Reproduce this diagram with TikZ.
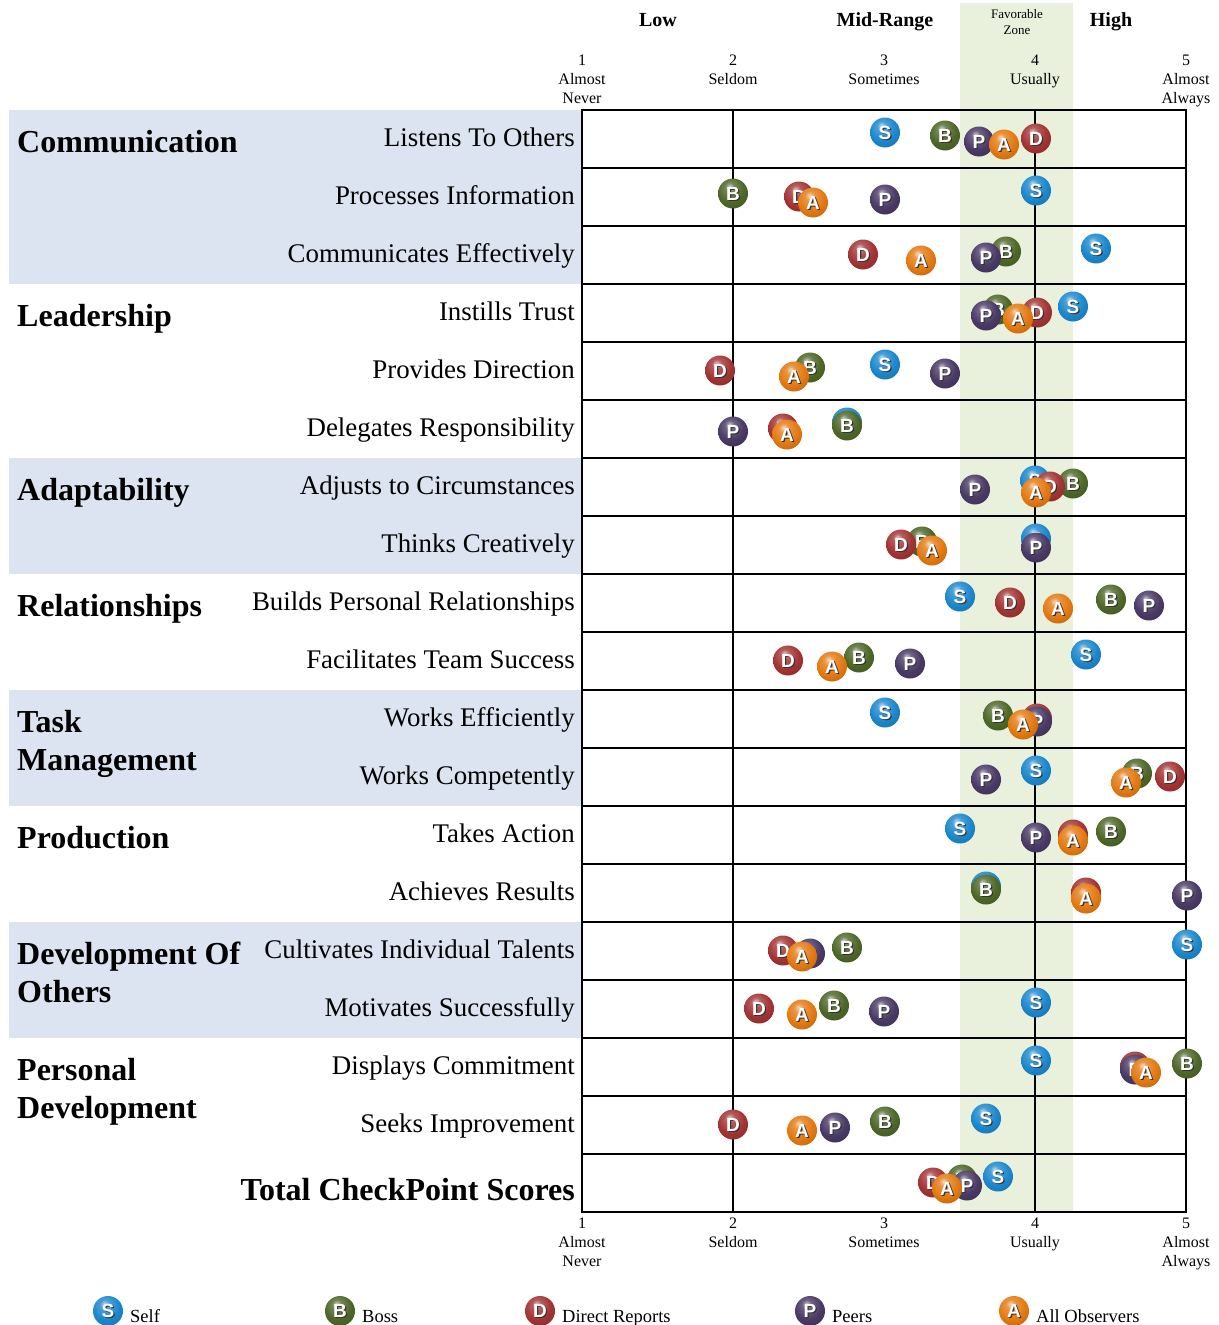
\documentclass[tikz,border=0pt]{standalone}
\usepackage{fontspec}
\setmainfont{Liberation Serif}
\newfontfamily\ballfont{Liberation Sans}
\definecolor{sblue}{RGB}{28,136,206}
\definecolor{bgreen}{RGB}{78,104,40}
\definecolor{dred}{RGB}{164,52,52}
\definecolor{ppurple}{RGB}{74,58,102}
\definecolor{aorange}{RGB}{228,122,18}
\definecolor{catbg}{RGB}{219,228,240}
\definecolor{zonebg}{RGB}{233,241,221}
\colorlet{mballc}{sblue}
\pgfdeclareradialshading[mballc]{myball}{\pgfpoint{-6bp}{12bp}}{%
  color(0bp)=(mballc!30!white); color(8bp)=(mballc!80!white); color(22bp)=(mballc);
  color(40bp)=(mballc!80!black); color(58bp)=(mballc!45!black); color(70bp)=(mballc!45!black)}
\newcommand\balltxt[1]{\makebox[0pt]{\smash{\raisebox{-1.3pt}{\hspace{2.6pt}\textcolor{black!80}{#1}}}}\makebox[0pt]{\textcolor{white}{#1}}}
\newcommand\ballmark[5]{\colorlet{mballc}{#5}\node[mball] (#1) at (#2,#3) {\balltxt{#4}};}
\tikzset{
  mball/.style={circle, minimum size=30pt, inner sep=0pt, shading=myball,
    font=\ballfont\bfseries\fontsize{19}{19}\selectfont},
  itemlbl/.style={anchor=base east, inner sep=0pt, font=\fontsize{26.9}{30}\selectfont},
  catlbl/.style={anchor=base west, inner sep=0pt, font=\bfseries\fontsize{32}{36}\selectfont},
  axlbl/.style={anchor=base, inner sep=0pt, font=\fontsize{16}{19}\selectfont},
  hdrlbl/.style={anchor=base, inner sep=0pt, font=\bfseries\fontsize{20}{24}\selectfont},
  zonelbl/.style={anchor=base, inner sep=0pt, font=\fontsize{13}{15}\selectfont},
  leglbl/.style={anchor=base west, inner sep=0pt, font=\fontsize{18.5}{22}\selectfont},
  gridline/.style={line width=1.3pt, black}
}
\begin{document}
\begin{tikzpicture}[x=1pt,y=-1pt]
\useasboundingbox (0,0) rectangle (1218,1325);
% backgrounds
\fill[catbg] (9,110) rectangle (582,284);
\fill[catbg] (9,458) rectangle (582,574);
\fill[catbg] (9,690) rectangle (582,806);
\fill[catbg] (9,922) rectangle (582,1038);
\fill[zonebg] (960,3) rectangle (1073,1212);
% grid
\foreach \r in {1,...,18} \draw[gridline] (582,110+58*\r) -- (1186,110+58*\r);
\draw[gridline] (733,110) -- (733,1212);
\draw[gridline] (1035,110) -- (1035,1212);
\draw[gridline] (582,110) rectangle (1186,1212);
% headers
\node[hdrlbl] (hlow) at (658,26) {Low};
\node[hdrlbl] (hmid) at (885,26) {Mid-Range};
\node[hdrlbl] (hhigh) at (1111,26) {High};
\node[zonelbl] (hfav1) at (1017,19) {Favorable};
\node[zonelbl] (hfav2) at (1017,34) {Zone};
% axis labels
\foreach \i/\x/\wa/\wb in {1/582/Almost/Never, 2/733/Seldom/, 3/884/Sometimes/, 4/1035/Usually/, 5/1186/Almost/Always}{
  \node[axlbl] (tn\i) at (\x,65.5) {\i};
  \node[axlbl] (ta\i) at (\x,84.5) {\wa};
  \node[axlbl] (tb\i) at (\x,103.5) {\wb};
  \node[axlbl] (bn\i) at (\x,1228.5) {\i};
  \node[axlbl] (ba\i) at (\x,1247.5) {\wa};
  \node[axlbl] (bb\i) at (\x,1266.5) {\wb};
}
% category labels
\node[catlbl] (c1) at (17,152) {Communication};
\node[catlbl] (c2) at (17,326) {Leadership};
\node[catlbl] (c3) at (17,500) {Adaptability};
\node[catlbl] (c4) at (17,616) {Relationships};
\node[catlbl] (c5a) at (17,732) {Task};
\node[catlbl] (c5b) at (17,770) {Management};
\node[catlbl] (c6) at (17,848) {Production};
\node[catlbl] (c7a) at (17,964) {Development Of};
\node[catlbl] (c7b) at (17,1002) {Others};
\node[catlbl] (c8a) at (17,1080) {Personal};
\node[catlbl] (c8b) at (17,1118) {Development};
\node[catlbl, anchor=base east] (ctot) at (575,1200) {Total CheckPoint Scores};
% item labels
\foreach \r/\t in {0/Listens To Others, 1/Processes Information, 2/Communicates Effectively,
  3/Instills Trust, 4/Provides Direction, 5/Delegates Responsibility,
  6/Adjusts to Circumstances, 7/Thinks Creatively, 8/Builds Personal Relationships,
  9/Facilitates Team Success, 10/Works Efficiently, 11/Works Competently,
  12/Takes Action, 13/Achieves Results, 14/Cultivates Individual Talents,
  15/Motivates Successfully, 16/Displays Commitment, 17/Seeks Improvement}
  \node[itemlbl] (it\r) at (575,146.5+58*\r) {\t};
% markers: row / S / B / D / P / A
\foreach \r/\xs/\xb/\xd/\xp/\xa in {
  0/885/945/1036/979/1004,
  1/1036/733/799/885/813,
  2/1096/1006/863/986/921,
  3/1073/998/1037/986/1018,
  4/885/810/720/945/794,
  5/847/847/783/733/787,
  6/1035/1073/1050/975/1036,
  7/1036/922/901/1036/932,
  8/960/1111/1010/1149/1058,
  9/1086/859/788/910/832,
  10/885/998/1037/1037/1023,
  11/1036/1137/1170/986/1126,
  12/960/1111/1073/1036/1073,
  13/986/986/1086/1187/1086,
  14/1187/847/783/810/802,
  15/1036/834/759/884/802,
  16/1036/1187/1135/1135/1146,
  17/986/885/733/835/802,
  18/998/962/933/967/947}{
  \pgfmathsetmacro\yc{139+58*\r}
  \ballmark{s\r}{\xs}{\yc-6.5}{S}{sblue}
  \ballmark{b\r}{\xb}{\yc-3.5}{B}{bgreen}
  \ballmark{d\r}{\xd}{\yc-0.5}{D}{dred}
  \ballmark{p\r}{\xp}{\yc+2.5}{P}{ppurple}
  \ballmark{a\r}{\xa}{\yc+5.5}{A}{aorange}
}
% legend
\ballmark{ls}{108}{1311}{S}{sblue}
\ballmark{lb}{340}{1311}{B}{bgreen}
\ballmark{ld}{540}{1311}{D}{dred}
\ballmark{lp}{810}{1311}{P}{ppurple}
\ballmark{la}{1014}{1311}{A}{aorange}
\node[leglbl] (lst) at (130,1322) {Self};
\node[leglbl] (lbt) at (362,1322) {Boss};
\node[leglbl] (ldt) at (562,1322) {Direct Reports};
\node[leglbl] (lpt) at (832,1322) {Peers};
\node[leglbl] (lat) at (1036,1322) {All Observers};
\end{tikzpicture}
\end{document}
